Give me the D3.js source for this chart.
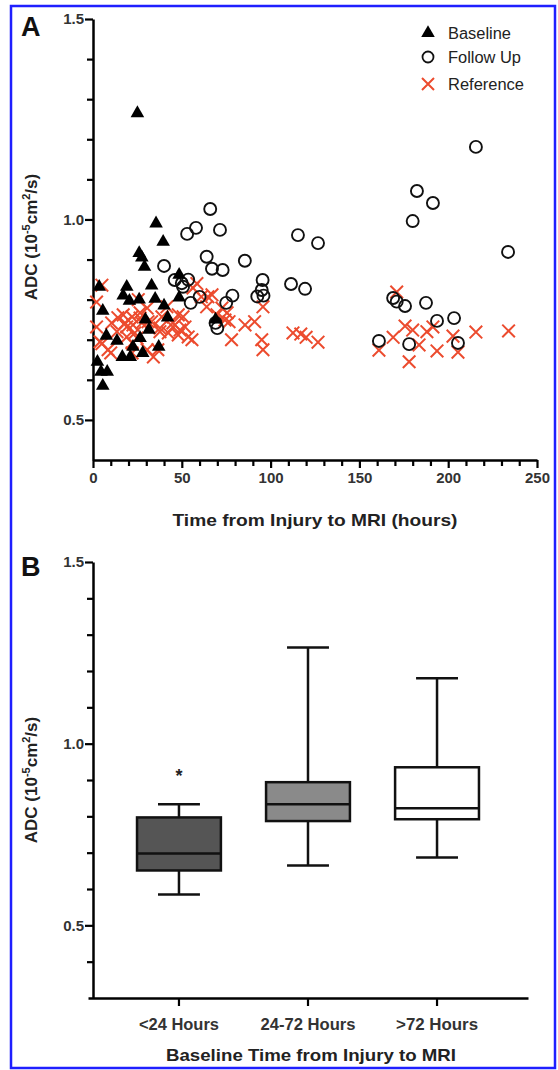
<!DOCTYPE html>
<html><head><meta charset="utf-8">
<script src="https://cdn.jsdelivr.net/npm/d3@7"></script>
<style>
html,body{margin:0;padding:0;background:#fff;}
svg{display:block;font-family:"Liberation Sans",Arial,sans-serif;}
</style></head>
<body>
<svg id="c" width="558" height="1070"></svg>
<script>
// ---------- DATA ----------
// Panel A: [hours, ADC]
const baseline = [[25,1.265],[35.5,0.99],[39.5,0.944],[26,0.916],[27.5,0.905],[29,0.882],[48.5,0.862],[48.5,0.805],
 [3.5,0.832],[5.5,0.772],[7.5,0.71],[13.5,0.697],[2.5,0.645],[4.5,0.62],[8,0.62],[5.5,0.585],[19,0.832],[17,0.81],
 [20.5,0.797],[26,0.8],[29.5,0.75],[33,0.835],[35,0.802],[40,0.785],[42,0.755],[31.5,0.725],[26.5,0.704],[22.5,0.682],
 [16.5,0.657],[21,0.657],[28,0.667],[37,0.682],[69,0.75]];
const followUp = [[40,0.884],[46,0.849],[50,0.841],[50.7,0.832],[53.6,0.85],[53,0.964],[55,0.792],[58,0.979],[60,0.807],
 [64,0.907],[66,1.026],[67,0.877],[69,0.742],[70,0.729],[71.5,0.974],[73,0.874],[75,0.792],[78.5,0.81],[85.5,0.897],
 [92.5,0.808],[95.5,0.849],[95,0.824],[96,0.81],[111.5,0.839],[115.4,0.961],[119.4,0.827],[126.7,0.941],[161,0.697],
 [169,0.804],[171,0.795],[175.7,0.784],[178,0.689],[180,0.996],[182.4,1.071],[187.5,0.792],[191.4,1.041],[193.7,0.747],
 [203.3,0.754],[205.5,0.692],[215.6,1.181],[233.7,0.919]];
const reference = [[2,0.794],[5,0.836],[2,0.732],[4,0.695],[5,0.69],[8.5,0.675],[10,0.667],[10.5,0.742],[13.5,0.72],
 [14,0.755],[17,0.762],[18,0.742],[19,0.732],[19,0.707],[22,0.757],[22.5,0.737],[22,0.692],[22,0.667],[23.5,0.717],
 [24.8,0.704],[25.5,0.80],[26.5,0.767],[26.5,0.754],[27.5,0.742],[30.5,0.779],[31,0.745],[30.5,0.675],[33,0.745],
 [34,0.657],[36.5,0.675],[37.7,0.72],[38.8,0.757],[37.7,0.729],[41.6,0.782],[42.4,0.717],[45,0.732],[45,0.742],
 [48,0.762],[48,0.712],[49,0.724],[50.7,0.757],[51.8,0.732],[53.6,0.707],[55.7,0.70],[56.3,0.829],[58.5,0.84],
 [61,0.807],[64.7,0.807],[64,0.782],[67,0.812],[69.8,0.762],[72.6,0.779],[74.3,0.749],[75.5,0.767],[76.6,0.745],
 [78,0.70],[85.6,0.737],[91,0.745],[95.7,0.782],[95,0.70],[95.7,0.675],
 [112.6,0.717],[117,0.714],[120,0.706],[126.7,0.694],[161,0.674],[169,0.706],[171,0.819],[175.7,0.734],[180,0.724],
 [178,0.645],[183.6,0.687],[188,0.72],[191.4,0.732],[193.7,0.672],[202.7,0.709],[205.5,0.669],[215.6,0.719],[234,0.722]];
const legendLabels = ["Baseline","Follow Up","Reference"];
const xTicksA = [0,50,100,150,200,250];
const yTicks = [0.5,1.0,1.5];

// Panel B box plots
const categories = ["<24 Hours","24-72 Hours",">72 Hours"];
const boxMin = [0.585,0.665,0.687];
const boxQ1  = [0.651,0.787,0.792];
const boxMed = [0.698,0.833,0.822];
const boxQ3  = [0.797,0.894,0.935];
const boxMax = [0.833,1.265,1.180];
const boxFill = ["#555555","#8a8a8a","#ffffff"];
const starValue = 0.93;

// ---------- DRAW ----------
const svg = d3.select("#c");
const FONT = '"Liberation Sans",Arial,sans-serif';
const RED = "#ec4b2e";
// rendered widths of horizontally stretched labels (styling)
const legendWidths = [63,73,76];
const catWidths = [80,95,82];

svg.append("rect").attr("x",11).attr("y",6).attr("width",544).attr("height",1062)
  .attr("fill","#fff").attr("stroke","#1f1fff").attr("stroke-width",2.5);

function styleAxis(g){
  g.selectAll("path.domain").attr("stroke","#000").attr("stroke-width",2.5);
  g.selectAll(".tick line").attr("stroke","#000").attr("stroke-width",2.2);
  g.selectAll(".tick text").attr("fill","#333").attr("font-size",15).attr("font-weight","bold").attr("font-family",FONT);
}
function yLabel(cx, cy){
  const t = svg.append("text").attr("transform",`translate(${cx},${cy}) rotate(-90)`)
    .attr("text-anchor","middle").attr("font-size",17).attr("font-weight","bold").attr("fill","#222");
  t.append("tspan").text("ADC (10");
  t.append("tspan").attr("dy",-7).attr("font-size",11).text("-5");
  t.append("tspan").attr("dy",7).text("cm");
  t.append("tspan").attr("dy",-7).attr("font-size",11).text("2");
  t.append("tspan").attr("dy",7).text("/s)");
}

// ----- Panel A -----
const xA = d3.scaleLinear().domain([0,250]).range([93,537]);
const yA = d3.scaleLinear().domain([0.4,1.5]).range([460,19]);

const gyA = svg.append("g").attr("transform","translate(93,0)")
  .call(d3.axisLeft(yA).tickValues(d3.range(0.4,1.501,0.1)).tickSize(6).tickSizeOuter(0)
    .tickFormat(d=> yTicks.some(v=>Math.abs(v-d)<1e-6) ? d3.format(".1f")(d) : ""));
gyA.selectAll(".tick").filter(d=>yTicks.some(v=>Math.abs(v-d)<1e-6)).select("line").attr("x2",-8);
styleAxis(gyA);
gyA.selectAll(".tick").filter(d=>Math.abs(d-0.4)<1e-6).remove();

const gxA = svg.append("g").attr("transform","translate(0,460)")
  .call(d3.axisBottom(xA).tickValues(d3.range(0,251,10)).tickSize(6).tickSizeOuter(0)
    .tickFormat(d=> xTicksA.includes(d) ? d : ""));
gxA.selectAll(".tick").filter(d=>xTicksA.includes(d)).select("line").attr("y2",8);
styleAxis(gxA);
gxA.selectAll(".tick text").attr("dy","0.9em");

// reference X marks
const xs = 6.3;
svg.append("g").selectAll("path").data(reference).join("path")
  .attr("d",d=>{const x=xA(d[0]),y=yA(d[1]);return `M${x-xs},${y-xs}L${x+xs},${y+xs}M${x-xs},${y+xs}L${x+xs},${y-xs}`;})
  .attr("stroke",RED).attr("stroke-width",2).attr("fill","none");
// follow up circles
svg.append("g").selectAll("circle").data(followUp).join("circle")
  .attr("cx",d=>xA(d[0])).attr("cy",d=>yA(d[1])).attr("r",6)
  .attr("fill","none").attr("stroke","#111").attr("stroke-width",1.9);
// baseline triangles
const tri = d3.symbol().type(d3.symbolTriangle).size(80);
svg.append("g").selectAll("path").data(baseline).join("path")
  .attr("transform",d=>`translate(${xA(d[0])},${yA(d[1])})`).attr("d",tri).attr("fill","#000");

// legend
const legY = [33,57,84];
const lg = svg.append("g");
lg.append("path").attr("transform",`translate(428,${legY[0]})`).attr("d",tri).attr("fill","#000");
lg.append("circle").attr("cx",428).attr("cy",legY[1]).attr("r",5.5).attr("fill","none").attr("stroke","#111").attr("stroke-width",1.8);
lg.append("path").attr("d",`M${428-6},${legY[2]-6}L${428+6},${legY[2]+6}M${428-6},${legY[2]+6}L${428+6},${legY[2]-6}`)
  .attr("stroke",RED).attr("stroke-width",2);
lg.selectAll("text").data(legendLabels).join("text")
  .attr("x",448).attr("y",(d,i)=>legY[i]).attr("dy","0.36em")
  .attr("font-size",16).attr("fill","#222")
  .attr("textLength",(d,i)=>legendWidths[i]).attr("lengthAdjust","spacingAndGlyphs").text(d=>d);

svg.append("text").attr("x",315).attr("y",526).attr("text-anchor","middle")
  .attr("font-size",17).attr("font-weight","bold").attr("fill","#222")
  .attr("textLength",285).attr("lengthAdjust","spacingAndGlyphs").text("Time from Injury to MRI (hours)");
yLabel(37, 237);
svg.append("text").attr("x",21).attr("y",36).attr("font-size",27).attr("font-weight","bold").attr("fill","#111").text("A");

// ----- Panel B -----
const yB = d3.scaleLinear().domain([0.3,1.5]).range([998,562]);
const xB = d3.scaleBand().domain(categories).range([88,528]).paddingInner(0.35).paddingOuter(0.38);

const gyB = svg.append("g").attr("transform","translate(93,0)")
  .call(d3.axisLeft(yB).tickValues(d3.range(0.3,1.501,0.1)).tickSize(6).tickSizeOuter(0)
    .tickFormat(d=> yTicks.some(v=>Math.abs(v-d)<1e-6) ? d3.format(".1f")(d) : ""));
gyB.selectAll(".tick").filter(d=>yTicks.some(v=>Math.abs(v-d)<1e-6)).select("line").attr("x2",-8);
styleAxis(gyB);
gyB.selectAll(".tick").filter(d=>Math.abs(d-0.3)<1e-6).remove();

const gxB = svg.append("g").attr("transform","translate(0,998)")
  .call(d3.axisBottom(xB).tickSize(8).tickSizeOuter(0));
styleAxis(gxB);
gxB.selectAll(".tick text").attr("dy","1.3em").attr("font-size",16)
  .attr("textLength",(d,i)=>catWidths[i]).attr("lengthAdjust","spacingAndGlyphs");

const boxes = svg.append("g").selectAll("g").data(categories).join("g");
boxes.each(function(c,i){
  const g = d3.select(this);
  const x0 = xB(c), w = xB.bandwidth(), cx = x0 + w/2;
  const cap = w/2;
  g.append("line").attr("x1",cx).attr("x2",cx).attr("y1",yB(boxMax[i])).attr("y2",yB(boxQ3[i]))
    .attr("stroke","#111").attr("stroke-width",2.5);
  g.append("line").attr("x1",cx).attr("x2",cx).attr("y1",yB(boxQ1[i])).attr("y2",yB(boxMin[i]))
    .attr("stroke","#111").attr("stroke-width",2.5);
  g.append("line").attr("x1",cx-cap/2).attr("x2",cx+cap/2).attr("y1",yB(boxMax[i])).attr("y2",yB(boxMax[i]))
    .attr("stroke","#111").attr("stroke-width",2.5);
  g.append("line").attr("x1",cx-cap/2).attr("x2",cx+cap/2).attr("y1",yB(boxMin[i])).attr("y2",yB(boxMin[i]))
    .attr("stroke","#111").attr("stroke-width",2.5);
  g.append("rect").attr("x",x0).attr("width",w).attr("y",yB(boxQ3[i])).attr("height",yB(boxQ1[i])-yB(boxQ3[i]))
    .attr("fill",boxFill[i]).attr("stroke","#111").attr("stroke-width",2.5);
  g.append("line").attr("x1",x0).attr("x2",x0+w).attr("y1",yB(boxMed[i])).attr("y2",yB(boxMed[i]))
    .attr("stroke","#111").attr("stroke-width",2.5);
});
svg.append("text").attr("x",xB(categories[0])+xB.bandwidth()/2).attr("y",yB(starValue)).attr("dy","0.7em")
  .attr("text-anchor","middle").attr("font-size",18).attr("font-weight","bold").attr("fill","#222").text("*");

svg.append("text").attr("x",311).attr("y",1061).attr("text-anchor","middle")
  .attr("font-size",17).attr("font-weight","bold").attr("fill","#222")
  .attr("textLength",290).attr("lengthAdjust","spacingAndGlyphs").text("Baseline Time from Injury to MRI");
yLabel(37, 780);
svg.append("text").attr("x",21).attr("y",576).attr("font-size",27).attr("font-weight","bold").attr("fill","#111").text("B");
</script>
</body></html>
